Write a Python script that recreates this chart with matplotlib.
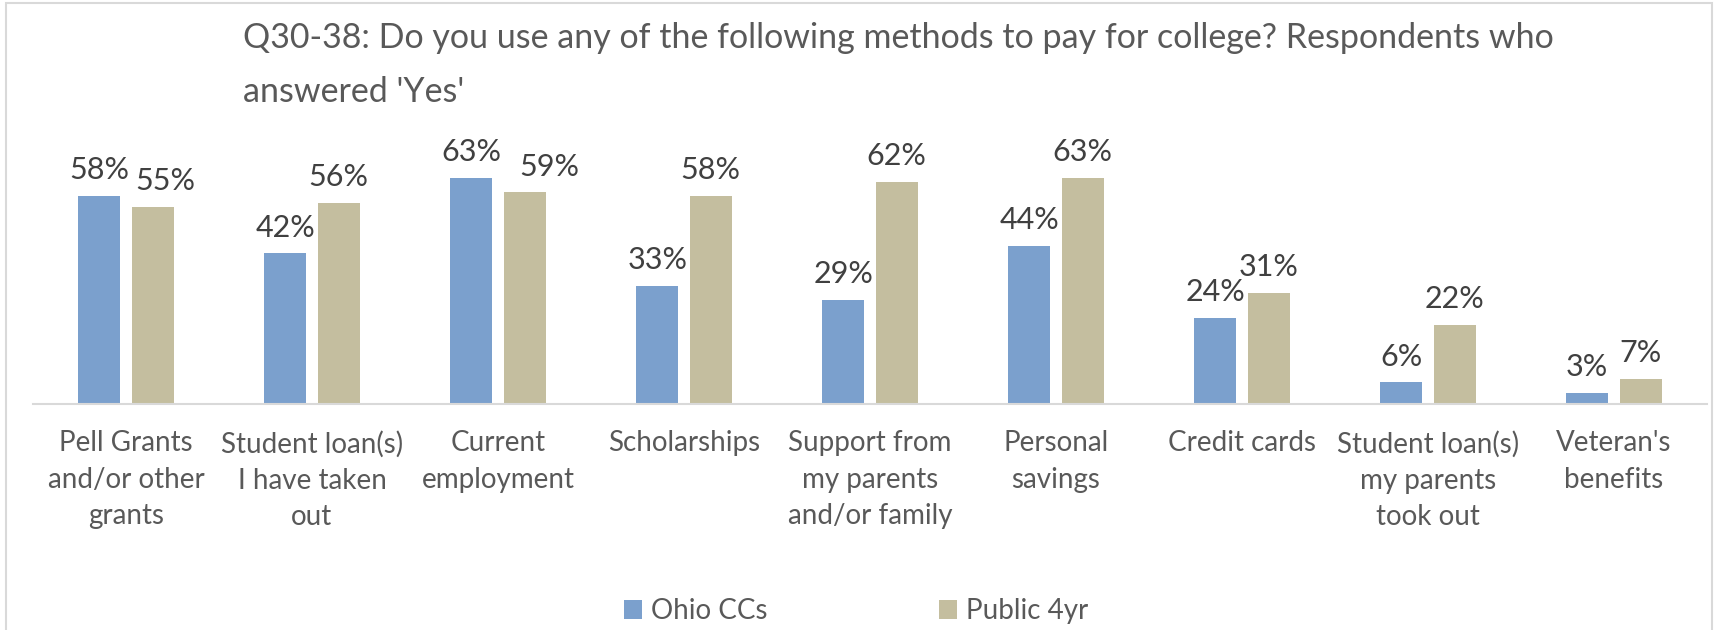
import matplotlib
matplotlib.use("Agg")
import matplotlib.pyplot as plt
import numpy as np
from matplotlib.patches import Rectangle

categories = [
    "Pell Grants\nand/or other\ngrants",
    "Student loan(s)\nI have taken\nout",
    "Current\nemployment",
    "Scholarships",
    "Support from\nmy parents\nand/or family",
    "Personal\nsavings",
    "Credit cards",
    "Student loan(s)\nmy parents\ntook out",
    "Veteran's\nbenefits",
]
ohio_ccs = [0.58, 0.42, 0.63, 0.33, 0.29, 0.44, 0.24, 0.06, 0.03]
public_4yr = [0.55, 0.56, 0.59, 0.58, 0.62, 0.63, 0.31, 0.22, 0.07]
series_names = ["Ohio CCs", "Public 4yr"]
title = "Q30-38: Do you use any of the following methods to pay for college? Respondents who\nanswered 'Yes'"

# Excel pushed a few labels sideways to avoid collisions (points, by category index)
tan_label_nudge = {0: 9, 2: 18}

BLUE = "#7BA0CD"
TAN = "#C4BE9F"
FONT = ["Lato", "DejaVu Sans"]
plt.rcParams["font.family"] = FONT

W, H = 1714, 630
fig = plt.figure(figsize=(W / 100, H / 100), dpi=100)
# axes placed in pixel terms: baseline at y=404, axis from x=33 to x=1707
ax = fig.add_axes([33 / W, 1 - 404 / H, (1707 - 33) / W, (404 - 153) / H])

x = np.arange(len(categories))
bw = 0.223
gap = 0.065
b1 = ax.bar(x - (bw + gap) / 2, ohio_ccs, bw, color=BLUE, label=series_names[0])
b2 = ax.bar(x + (bw + gap) / 2, public_4yr, bw, color=TAN, label=series_names[1])

for bars, nudges in ((b1, {}), (b2, tan_label_nudge)):
    for i, rect in enumerate(bars):
        v = rect.get_height()
        ax.annotate(f"{v:.0%}", (rect.get_x() + rect.get_width() / 2, v),
                    xytext=(nudges.get(i, 0), 8.5), textcoords="offset points",
                    ha="center", va="bottom", fontsize=22, color="#404040",
                    annotation_clip=False)

ax.set_xlim(-0.5, len(categories) - 0.5)
ax.set_ylim(0, 0.70)
ax.set_yticks([])
for s in ("top", "right", "left"):
    ax.spines[s].set_visible(False)
ax.spines["bottom"].set_color("#D9D9D9")
ax.spines["bottom"].set_linewidth(1.5)
ax.set_xticks(x)
ax.set_xticklabels(categories, fontsize=20, color="#595959", linespacing=1.5)
ax.tick_params(axis="x", length=0, pad=19)

fig.text(243 / W, 1 - 22 / H, title, ha="left", va="top", fontsize=24.5,
         color="#595959", linespacing=1.85)

leg = fig.legend(loc="center", bbox_to_anchor=(856 / W, 1 - 611 / H), ncol=2,
                 frameon=False, fontsize=20, handlelength=0.65, handleheight=0.65,
                 handletextpad=0.3, columnspacing=6.2)
for t in leg.get_texts():
    t.set_color("#595959")

fig.patches.append(Rectangle((6 / W, -0.05), (1712 - 6) / W, 1.05 - 3 / H,
                             transform=fig.transFigure, fill=False,
                             edgecolor="#D9D9D9", linewidth=1.5))

fig.savefig("out.png", dpi=100)
